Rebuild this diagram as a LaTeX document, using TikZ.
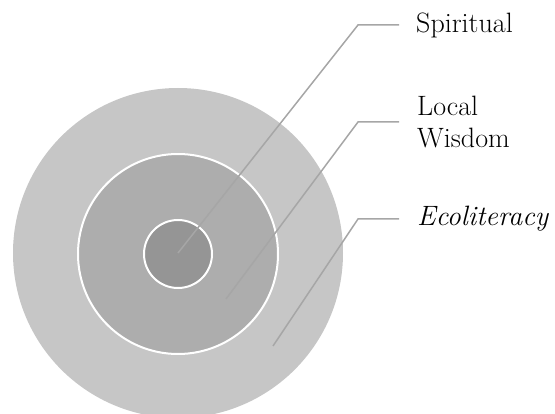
\documentclass[tikz,border=0pt]{standalone}
\usepackage{tikz}
\usetikzlibrary{positioning,calc}
\definecolor{ringout}{HTML}{C6C6C6}
\definecolor{ringmid}{HTML}{ADADAD}
\definecolor{ringin}{HTML}{959595}
\definecolor{leader}{HTML}{A6A6A6}
\tikzset{
  ring/.style={circle, draw=white, line width=2pt, inner sep=0pt},
  leaderline/.style={draw=leader, line width=1.5pt},
  lab/.style={anchor=west, inner sep=0pt, font=\fontsize{28}{32}\selectfont, align=left}
}
\begin{document}
\begin{tikzpicture}[x=1pt, y=-1pt]
  \clip (0,0) rectangle (555,414);
  \useasboundingbox (0,0) rectangle (555,414);

  % Concentric rings
  \node[ring, fill=ringout, draw=none, minimum size=330pt] (outer) at (178,253) {};
  \node[ring, fill=ringmid, minimum size=200pt] (middle) at (178,254) {};
  \node[ring, fill=ringin, minimum size=68pt] (inner) at (178,254) {};

  % Labels
  \node[lab] (spiritual) at (416,25) {Spiritual};
  \node[lab] (wisdom) at (417,122) {Local\\Wisdom};
  \node[lab] (eco) at (417,219) {\textit{Ecoliteracy}};

  % Leader lines
  \coordinate (sp-start) at (178,253);
  \coordinate (lw-start) at (226,299);
  \coordinate (ec-start) at (273,346);
  \coordinate (sp-bend) at (358,25);
  \coordinate (lw-bend) at (358,122);
  \coordinate (ec-bend) at (358,219);

  \draw[leaderline] (sp-start) -- (sp-bend) -- ([xshift=-17pt]spiritual.west |- sp-bend);
  \draw[leaderline] (lw-start) -- (lw-bend) -- ([xshift=-18pt]wisdom.west |- lw-bend);
  \draw[leaderline] (ec-start) -- (ec-bend) -- ([xshift=-18pt]eco.west |- ec-bend);
\end{tikzpicture}
\end{document}
